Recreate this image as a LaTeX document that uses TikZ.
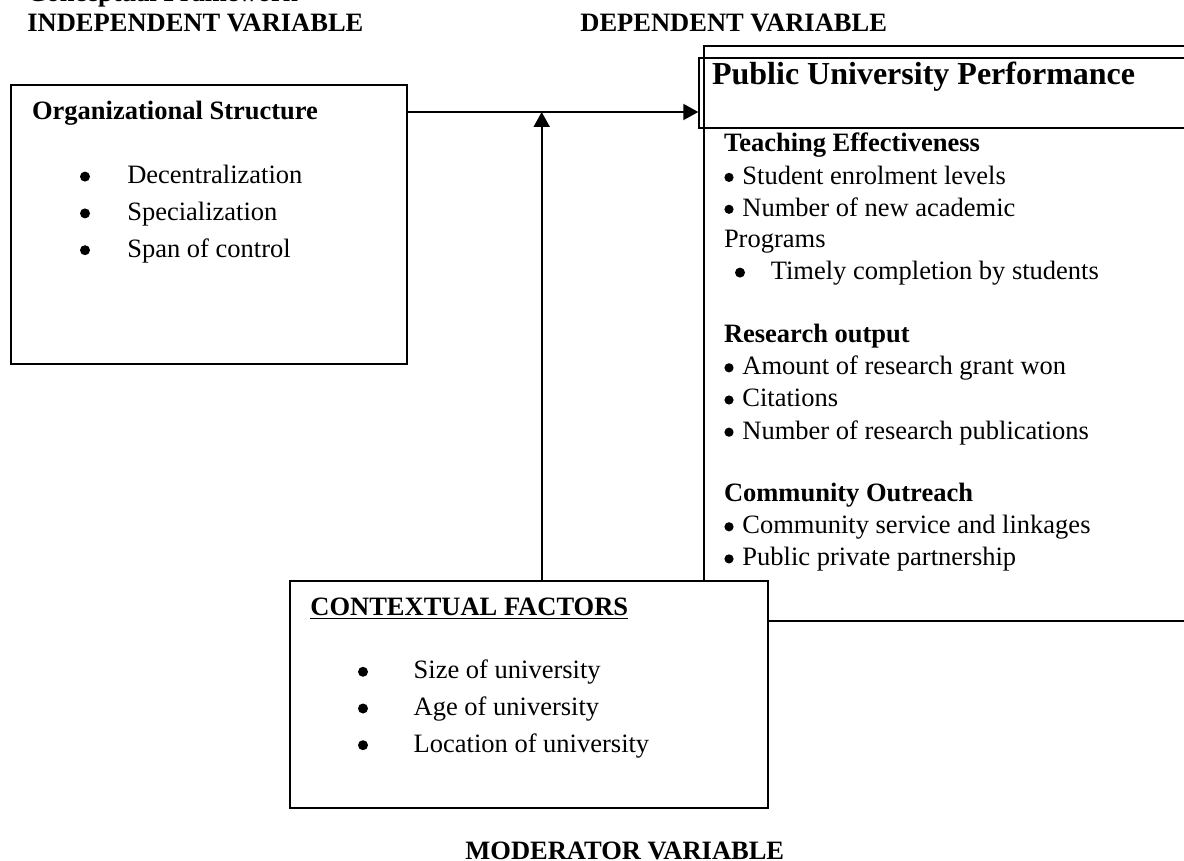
\documentclass[tikz,border=0pt]{standalone}
\usepackage{fontspec}
\setmainfont{Liberation Serif}
\usepackage{tikz}
\usetikzlibrary{arrows.meta}
\usetikzlibrary{positioning}

\tikzset{
  box/.style={draw, line width=1pt, anchor=north west, inner sep=0pt},
  txt/.style={anchor=base west, inner sep=0pt, font=\fontsize{13.25}{15.9}\selectfont},
  hd/.style={anchor=base west, inner sep=0pt, font=\fontsize{13.25}{15.9}\selectfont\bfseries},
  bul/.style={circle, fill, inner sep=0pt, minimum size=5pt},
  sbul/.style={bul, minimum size=4.6pt},
  arr/.style={line width=1pt, -{Triangle[length=7.5pt,width=8pt]}},
}

\begin{document}
\begin{tikzpicture}[x=0.5pt,y=-0.5pt]
  \useasboundingbox (0,0) rectangle (1184,861);

  % titles
  \node[hd] (cf) at (27,2) {Conceptual Framework};
  \node[hd] (ivt) at (27,31.5) {INDEPENDENT VARIABLE};
  \node[hd] (dvt) at (580,31.5) {DEPENDENT VARIABLE};
  \node[hd] (mvt) at (465,859) {MODERATOR VARIABLE};

  % independent variable
  \node[box, minimum width=198pt, minimum height=139.5pt] (orgbox) at (10,84) {};
  \node[hd] (orghd) at (31.7,120) {Organizational Structure};
  \foreach \t [count=\i] in {Decentralization, Specialization, Span of control}
  {
    \node[bul] (ob\i) at (85,{176.6+36.8*(\i-1)}) {};
    \node[txt] (os\i) at (126.9,{183.5+36.8*(\i-1)}) {\t};
  }

  % dependent variable
  \node[box, minimum width=243.7pt, minimum height=287.5pt] (dvbox) at (702.7,45) {};
  \node[box, minimum width=245.9pt, minimum height=35.3pt] (pubhd) at (698.3,56.7) {};
  \node[anchor=base west, inner sep=0pt, font=\fontsize{16}{19}\selectfont\bfseries]
    (pubt) at (711.7,85) {Public University Performance};

  \node[hd] (teach) at (723.6,152) {Teaching Effectiveness};
  \node[sbul] (tb1) at (729,177.4) {};
  \node[txt] (te1) at (742,184.2) {Student enrolment levels};
  \node[sbul] (tb2) at (729,209.3) {};
  \node[txt] (te2) at (742,216.1) {Number of new academic};
  \node[txt] (te3) at (723.6,247.8) {Programs};
  \node[bul] (tb3) at (740,272.6) {};
  \node[txt] (te4) at (770.4,279.5) {Timely completion by students};

  \node[hd] (res) at (723.6,342.5) {Research output};
  \foreach \t [count=\i] in {Amount of research grant won, Citations, Number of research publications}
  {
    \node[sbul] (rb\i) at (729,{367.8+32.2*(\i-1)}) {};
    \node[txt] (ro\i) at (742,{374.6+32.2*(\i-1)}) {\t};
  }

  \node[hd] (comm) at (723.6,501.4) {Community Outreach};
  \foreach \t [count=\i] in {Community service and linkages, Public private partnership}
  {
    \node[sbul] (cb\i) at (729,{526.8+32.1*(\i-1)}) {};
    \node[txt] (co\i) at (742,{533.6+32.1*(\i-1)}) {\t};
  }

  % moderator
  \node[box, fill=white, minimum width=239pt, minimum height=113.5pt] (ctxbox) at (289.3,580.3) {};
  \node[hd] (ctxhd) at (310,615.5) {\underline{CONTEXTUAL FACTORS}};
  \foreach \t [count=\i] in {Size of university, Age of university, Location of university}
  {
    \node[bul] (xb\i) at (363,{671.8+36.7*(\i-1)}) {};
    \node[txt] (cx\i) at (413.3,{678.7+36.7*(\i-1)}) {\t};
  }

  % arrows
  \coordinate (jn) at (541.7,112);
  \draw[arr] (orgbox.east |- jn) -- (pubhd.west |- jn);
  \draw[arr] (ctxbox.north -| jn) -- (jn);
\end{tikzpicture}
\end{document}
